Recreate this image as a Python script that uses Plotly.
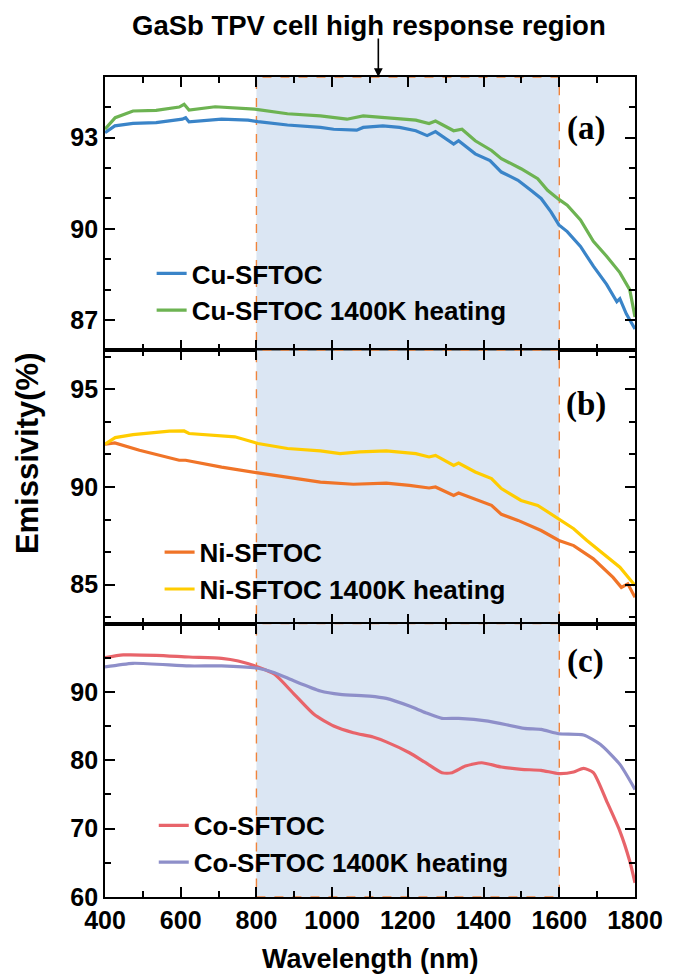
import plotly.graph_objects as go
from plotly.subplots import make_subplots

# ---------------- data ----------------
wl_cu = [400, 426, 474, 535, 604, 613, 622, 708, 778, 804, 882, 969, 1004, 1065, 1082, 1134, 1178, 1221, 1251, 1273,
         1321, 1334, 1378, 1417, 1447, 1491, 1525, 1552, 1578, 1599, 1621, 1656, 1690, 1725, 1752, 1760, 1777, 1800]
cu = [93.17, 93.39, 93.47, 93.5, 93.61, 93.66, 93.52, 93.61, 93.58, 93.53, 93.42, 93.34, 93.28, 93.25, 93.34, 93.39,
      93.34, 93.23, 93.07, 93.2, 92.79, 92.9, 92.47, 92.25, 91.87, 91.6, 91.27, 91.0, 90.56, 90.13, 89.91, 89.42,
      88.77, 88.17, 87.6, 87.7, 87.2, 86.7]

wl_cuh = [400, 427, 474, 535, 596, 609, 622, 691, 795, 882, 969, 1039, 1082, 1134, 1178, 1221, 1256, 1273, 1321, 1343,
          1378, 1421, 1447, 1499, 1543, 1569, 1599, 1621, 1656, 1690, 1725, 1760, 1786, 1800]
cuh = [93.28, 93.66, 93.88, 93.9, 94.01, 94.1, 93.91, 94.02, 93.94, 93.79, 93.72, 93.61, 93.72, 93.66, 93.61, 93.58,
       93.47, 93.55, 93.23, 93.28, 92.9, 92.58, 92.31, 91.98, 91.65, 91.27, 90.97, 90.78, 90.29, 89.59, 89.1, 88.56,
       88.0, 87.1]

wl_ni = [400, 426, 491, 596, 613, 708, 804, 882, 969, 1056, 1143, 1204, 1256, 1273, 1321, 1334, 1378, 1421, 1447,
         1491, 1552, 1599, 1638, 1690, 1742, 1764, 1781, 1800]
ni = [92.19, 92.26, 91.88, 91.37, 91.37, 91.02, 90.72, 90.51, 90.25, 90.14, 90.2, 90.08, 89.95, 90.0, 89.57, 89.69,
      89.35, 89.06, 88.6, 88.29, 87.77, 87.26, 87.0, 86.32, 85.37, 84.86, 85.04, 84.35]

wl_nih = [400, 427, 474, 570, 609, 622, 743, 804, 882, 969, 1021, 1073, 1143, 1221, 1256, 1273, 1321, 1334, 1378,
          1421, 1447, 1499, 1543, 1599, 1638, 1673, 1716, 1760, 1800]
nih = [92.19, 92.53, 92.68, 92.86, 92.87, 92.74, 92.57, 92.23, 91.97, 91.85, 91.71, 91.8, 91.85, 91.71, 91.54, 91.62,
       91.11, 91.23, 90.77, 90.43, 89.92, 89.31, 89.06, 88.37, 87.86, 87.26, 86.58, 85.89, 84.95]

wl_co = [400, 448, 535, 622, 708, 752, 804, 848, 900, 952, 1004, 1056, 1108, 1143, 1204, 1247, 1290, 1317, 1352, 1395,
         1447, 1500, 1552, 1599, 1638, 1664, 1690, 1725, 1760, 1786, 1800]
co = [95.02, 95.42, 95.37, 95.12, 94.93, 94.54, 93.66, 92.59, 89.66, 86.73, 85.02, 84.04, 83.41, 82.7, 81.11, 79.65,
      78.19, 78.19, 79.16, 79.65, 79.02, 78.68, 78.54, 78.05, 78.29, 78.83, 78.19, 74.04, 69.65, 65.26, 62.08]

wl_coh = [400, 474, 622, 708, 804, 848, 900, 969, 1021, 1099, 1143, 1204, 1247, 1290, 1334, 1412, 1508, 1552, 1599,
          1664, 1708, 1760, 1800]
coh = [93.66, 94.2, 93.81, 93.81, 93.47, 92.83, 91.61, 90.15, 89.66, 89.41, 89.07, 87.95, 86.97, 86.15, 86.15, 85.75,
       84.68, 84.53, 83.89, 83.7, 82.34, 79.41, 75.75]

names = ["Cu-SFTOC", "Cu-SFTOC 1400K heating", "Ni-SFTOC", "Ni-SFTOC 1400K heating",
         "Co-SFTOC", "Co-SFTOC 1400K heating"]
colors = ["#3a84c8", "#6db352", "#f07428", "#ffcc00", "#e8646a", "#8e8fc9"]
panel_labels = ["(a)", "(b)", "(c)"]
y_ticks = [[87, 90, 93], [85, 90, 95], [60, 70, 80, 90]]
y_ranges = [[86, 95], [83, 97], [60, 100]]
y_minor = [1, 5 / 3, 5]
region = [800, 1600]

# ---------------- figure ----------------
fig = make_subplots(rows=3, cols=1, shared_xaxes=True, vertical_spacing=0)

# shaded high-response region, drawn first in each panel so it sits under the curves
for r in range(1, 4):
    lo, hi = y_ranges[r - 1]
    fig.add_trace(go.Scatter(x=[region[0], region[1], region[1], region[0], region[0]],
                             y=[lo, lo, hi, hi, lo], mode="lines", fill="toself", fillcolor="#dbe6f3",
                             line=dict(color="#f0843c", width=1.4, dash="dash"), hoverinfo="skip",
                             showlegend=False), row=r, col=1)

series = [(wl_cu, cu, 1, "legend", "linear"), (wl_cuh, cuh, 1, "legend", "linear"),
          (wl_ni, ni, 2, "legend2", "linear"), (wl_nih, nih, 2, "legend2", "linear"),
          (wl_co, co, 3, "legend3", "spline"), (wl_coh, coh, 3, "legend3", "spline")]
for i, (xs, ys, row, lg, shp) in enumerate(series):
    line = dict(color=colors[i], width=3.2, shape=shp)
    if shp == "spline":
        line["smoothing"] = 0.6
    fig.add_trace(go.Scatter(x=xs, y=ys, mode="lines", name=names[i], line=line, legend=lg), row=row, col=1)

for r in range(1, 4):
    fig.update_xaxes(range=[400, 1800], tickmode="linear", tick0=400, dtick=200,
                     showline=True, linecolor="black", linewidth=1.8,
                     mirror="allticks", ticks="inside", ticklen=10, tickwidth=2, tickcolor="black",
                     minor=dict(ticks="inside", dtick=100, tick0=400, ticklen=6, tickwidth=2, tickcolor="black"),
                     showgrid=False, zeroline=False, row=r, col=1)
    if r < 3:
        fig.update_xaxes(showticklabels=False, row=r, col=1)
    fig.update_yaxes(range=y_ranges[r - 1], tickvals=y_ticks[r - 1],
                     showline=True, linecolor="black", linewidth=1.8, mirror="allticks",
                     ticks="inside", ticklen=10, tickwidth=2, tickcolor="black", showgrid=False, zeroline=False,
                     minor=dict(ticks="inside", dtick=y_minor[r - 1], tick0=y_ticks[r - 1][0], ticklen=6,
                                tickwidth=2, tickcolor="black"),
                     row=r, col=1)

LEG_FONT = dict(family="Liberation Sans, Arial, sans-serif", size=26, color="black", weight="bold")
leg_common = dict(font=LEG_FONT, bgcolor="rgba(0,0,0,0)", borderwidth=0, xanchor="left", yanchor="top",
                  tracegroupgap=0, itemwidth=30)

annotations = [
    dict(text="GaSb TPV cell high response region", xref="paper", yref="paper", x=0.498, y=1.0634,
         xanchor="center", yanchor="middle", showarrow=False,
         font=dict(family="Liberation Sans, Arial, sans-serif", size=27.5, color="black", weight="bold")),
    dict(text="", xref="paper", yref="paper", x=(1122 - 400) / 1400, y=1.0, ax=0, ay=-40, showarrow=True,
         arrowhead=2, arrowsize=1.1, arrowwidth=1.6, arrowcolor="black", standoff=0),
    dict(text="Emissivity(%)", xref="paper", yref="paper", x=-0.145, y=0.5415, textangle=-90,
         xanchor="center", yanchor="middle", showarrow=False,
         font=dict(family="Liberation Sans, Arial, sans-serif", size=31, color="black", weight="bold")),
    dict(text="Wavelength (nm)", xref="paper", yref="paper", x=0.5, y=-0.0756,
         xanchor="center", yanchor="middle", showarrow=False,
         font=dict(family="Liberation Sans, Arial, sans-serif", size=27, color="black", weight="bold")),
]
for lbl, yy in zip(panel_labels, [0.9378, 0.601, 0.2866]):
    annotations.append(dict(text=lbl, xref="paper", yref="paper", x=0.907, y=yy, xanchor="center",
                            yanchor="middle", showarrow=False,
                            font=dict(family="Liberation Serif, Times New Roman, serif", size=33,
                                      color="black", weight="bold")))

fig.update_layout(
    width=675, height=975,
    margin=dict(l=105, r=33, t=77, b=78),
    font=dict(family="Liberation Sans, Arial, sans-serif", size=25, color="black", weight="bold"),
    plot_bgcolor="rgba(0,0,0,0)",
    annotations=annotations,
    legend=dict(x=0.088, y=0.789, **leg_common),
    legend2=dict(x=0.103, y=0.449, **leg_common),
    legend3=dict(x=0.092, y=0.116, **leg_common),
    showlegend=True,
)

fig.write_html("out.html")
